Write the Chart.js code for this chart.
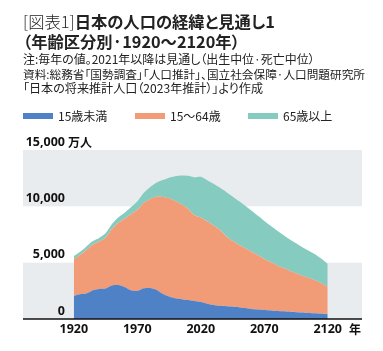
<!DOCTYPE html>
<html lang="ja">
<head>
<meta charset="utf-8">
<script src="https://cdn.jsdelivr.net/npm/chart.js@4"></script>
<style>
  html, body { margin: 0; padding: 0; background: #fff; }
  body { width: 383px; height: 351px; position: relative; overflow: hidden;
         font-family: "Noto Sans CJK JP", "Noto Sans", sans-serif; color: #222; }
  #chart { position: absolute; left: 0; top: 0; }
  .line { position: absolute; left: 23px; white-space: nowrap; font-feature-settings: "palt" 1; }
  .title { font-size: 17px; font-weight: bold; }
  .title .lite { font-weight: 300; }
  .note { font-size: 11.5px; }
  .legend { position: absolute; top: 108px; left: 23px; font-size: 12px; line-height: 16px; }
  .legend span { position: absolute; white-space: nowrap; }
  .legend i { position: absolute; top: 5px; width: 30px; height: 6px; }
</style>
</head>
<body>
<canvas id="chart" width="383" height="351"></canvas>
<div class="line title" data-w="252" data-cy="22"><span class="lite">[図表1]</span>日本の人口の経緯と見通し1</div>
<div class="line title" data-w="217" data-cy="42">（年齢区分別·1920〜2120年）</div>
<div class="line note" data-w="292" data-cy="60">注:毎年の値。2021年以降は見通し（出生中位·死亡中位）</div>
<div class="line note" data-w="342" data-cy="75">資料:総務省「国勢調査」「人口推計」、国立社会保障·人口問題研究所</div>
<div class="line note" data-w="240" data-cy="89">「日本の将来推計人口（2023年推計）」より作成</div>
<div class="legend" id="legend"></div>
<script>
const years = [1920,1925,1930,1935,1940,1945,1950,1955,1960,1965,1970,1975,1980,1985,1990,1995,2000,2005,2010,2015,2020,
  2025,2030,2035,2040,2045,2050,2055,2060,2065,2070,2075,2080,2085,2090,2095,2100,2105,2110,2115,2120];
const under15 = [2052,2192,2258,2545,2658,2700,2979,3012,2843,2553,2482,2722,2751,2603,2249,2001,1847,1752,1680,1589,1503,
  1363,1240,1169,1142,1103,1041,966,893,842,797,760,720,680,640,605,570,540,510,470,430];
const age15to64 = [3239,3479,3881,4048,4220,4520,5017,5517,6047,6744,7212,7581,7883,8251,8590,8716,8622,8409,8103,7629,7509,
  7310,7076,6722,6213,5832,5540,5307,5078,4809,4535,4290,4060,3840,3640,3450,3270,3100,2930,2700,2430];
const over65 = [294,302,306,322,315,380,416,479,540,624,739,887,1065,1247,1489,1826,2204,2567,2925,3347,3603,
  3653,3696,3773,3928,3945,3888,3778,3644,3508,3367,3220,3080,2940,2800,2660,2530,2410,2300,2180,2050];

const seriesNames = ['15歳未満', '15〜64歳', '65歳以上'];
const seriesColors = ['#4f81c6', '#f29b77', '#85cbbf'];
const yTicks = [0, 5000, 10000, 15000];
const xTicks = [1920, 1970, 2020, 2070, 2120];

// fit header lines to the widths measured on the reference
document.querySelectorAll('.line').forEach(el => {
  const base = parseFloat(getComputedStyle(el).fontSize);
  const w = el.getBoundingClientRect().width;
  const size = base * (+el.dataset.w) / w;
  el.style.fontSize = size.toFixed(2) + 'px';
  el.style.lineHeight = '1';
  el.style.top = (+el.dataset.cy - size / 2 - 1) + 'px';
});

// html legend
const legendEl = document.getElementById('legend');
const legendX = [0, 112, 225];
seriesNames.forEach((name, i) => {
  legendEl.innerHTML += `<i style="left:${legendX[i]}px;background:${seriesColors[i]}"></i>` +
    `<span style="left:${legendX[i] + 35}px">${name}</span>`;
});

function toPoints(arr) {
  return arr.map((v, i) => ({ x: years[i], y: v }));
}

const decorPlugin = {
  id: 'decor',
  beforeDatasetsDraw(chart) {
    const { ctx, chartArea, scales } = chart;
    const y = scales.y;
    ctx.save();
    ctx.fillStyle = '#e9ecef';
    [[0, 5000], [10000, 15000]].forEach(([a, b]) => {
      const top = y.getPixelForValue(b), bot = y.getPixelForValue(a);
      ctx.fillRect(chartArea.left, top, chartArea.right - chartArea.left, bot - top);
    });
    ctx.restore();
  },
  afterDatasetsDraw(chart) {
    const { ctx, chartArea, scales } = chart;
    const x = scales.x, y = scales.y;
    ctx.save();
    // baseline
    const y0 = y.getPixelForValue(0);
    ctx.strokeStyle = '#111';
    ctx.lineWidth = 1.5;
    ctx.beginPath();
    ctx.moveTo(chartArea.left, y0);
    ctx.lineTo(chartArea.right, y0);
    ctx.stroke();

    ctx.fillStyle = '#111';
    ctx.font = 'bold 12.5px "Noto Sans", sans-serif';
    ctx.textBaseline = 'middle';
    ctx.textAlign = 'right';
    yTicks.forEach(v => {
      ctx.fillText(v.toLocaleString('en-US'), 65, y.getPixelForValue(v) - 8);
    });
    ctx.textAlign = 'left';
    ctx.font = 'bold 12px "Noto Sans CJK JP", sans-serif';
    ctx.fillText('万人', 68, y.getPixelForValue(15000) - 8);

    ctx.font = 'bold 12.5px "Noto Sans", sans-serif';
    ctx.textAlign = 'center';
    xTicks.forEach(v => {
      ctx.fillText(String(v), x.getPixelForValue(v), y0 + 10);
    });
    ctx.font = 'bold 12px "Noto Sans CJK JP", sans-serif';
    ctx.fillText('年', 355, y0 + 10);
    ctx.restore();
  }
};

new Chart(document.getElementById('chart'), {
  type: 'line',
  data: {
    datasets: [
      { label: seriesNames[0], data: toPoints(under15), backgroundColor: seriesColors[0], fill: 'origin' },
      { label: seriesNames[1], data: toPoints(age15to64), backgroundColor: seriesColors[1], fill: '-1' },
      { label: seriesNames[2], data: toPoints(over65), backgroundColor: seriesColors[2], fill: '-1' }
    ]
  },
  options: {
    responsive: false,
    animation: false,
    layout: { padding: { left: 23, right: 21, top: 150, bottom: 32 } },
    elements: { line: { borderWidth: 0, tension: 0.2 }, point: { radius: 0 } },
    scales: {
      x: { type: 'linear', min: 1880, max: 2147, display: false },
      y: { stacked: true, min: 0, max: 15000, display: false }
    },
    plugins: { legend: { display: false }, tooltip: { enabled: false } }
  },
  plugins: [decorPlugin]
});
</script>
</body>
</html>
